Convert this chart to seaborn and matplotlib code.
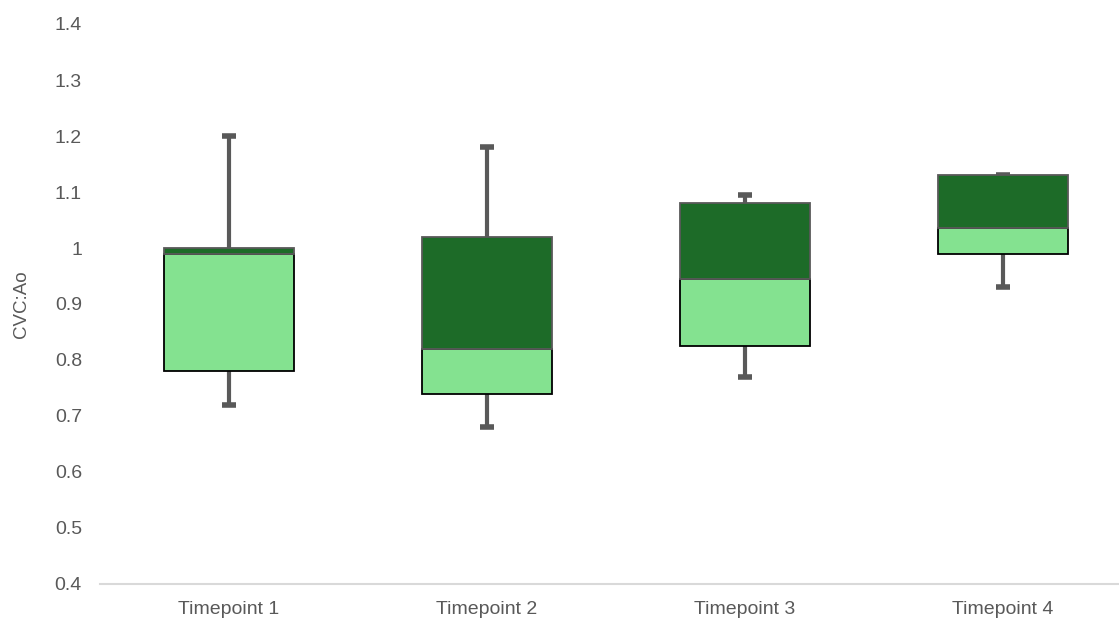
import numpy as np
import pandas as pd
import seaborn as sns
from matplotlib import pyplot as plt

# values (Excel-style box chart)
timepoints = ["Timepoint 1", "Timepoint 2", "Timepoint 3", "Timepoint 4"]
whisker_low = [0.72, 0.68, 0.77, 0.93]
q1 = [0.78, 0.74, 0.825, 0.99]
median = [0.99, 0.82, 0.945, 1.035]
q3 = [1.0, 1.02, 1.08, 1.13]
whisker_high = [1.2, 1.18, 1.095, 1.13]

LIGHT = "#84e290"
DARK = "#1d6b28"
GREY = "#595959"

sns.set_theme(style="white")
plt.rcParams["font.family"] = ["Liberation Sans", "DejaVu Sans"]

df = pd.DataFrame({
    "tp": timepoints,
    "lo": whisker_low,
    "q1": q1,
    "med": median,
    "q3": q3,
    "hi": whisker_high,
})
df["lower"] = df["med"] - df["q1"]
df["upper"] = df["q3"] - df["med"]

fig = plt.figure(figsize=(11.19, 6.19), dpi=100)
ax = fig.add_axes([100 / 1119, 35 / 619, 1019 / 1119, 560 / 619])

# whiskers behind the boxes
x = np.arange(len(df))
ax.vlines(x, df["lo"], df["q1"], color=GREY, linewidth=3, zorder=1)
ax.vlines(x, df["q3"], df["hi"], color=GREY, linewidth=3, zorder=1)
cap = 0.028
ax.hlines(df["lo"], x - cap, x + cap, color=GREY, linewidth=4, zorder=1)
ax.hlines(df["hi"], x - cap, x + cap, color=GREY, linewidth=4, zorder=1)

sns.barplot(data=df, x="tp", y="lower", bottom=df["q1"].to_numpy(), color=LIGHT,
            saturation=1, width=0.505, edgecolor="black", linewidth=1.3,
            errorbar=None, ax=ax, zorder=2)
sns.barplot(data=df, x="tp", y="upper", bottom=df["med"].to_numpy(), color=DARK,
            saturation=1, width=0.505, edgecolor=GREY, linewidth=1.3,
            errorbar=None, ax=ax, zorder=2)

ax.set_xlim(-0.5, 3.45)
ax.set_ylim(0.4, 1.4)
ax.set_yticks(np.arange(0.4, 1.41, 0.1))
ax.set_yticklabels(["0.4", "0.5", "0.6", "0.7", "0.8", "0.9", "1", "1.1", "1.2", "1.3", "1.4"])
ax.tick_params(axis="both", length=0, colors=GREY, labelsize=14)
ax.tick_params(axis="y", pad=13)
ax.tick_params(axis="x", pad=12)
ax.set_xlabel("")
ax.set_ylabel("CVC:Ao", color=GREY, fontsize=13.5, labelpad=18)

for s in ["top", "right", "left"]:
    ax.spines[s].set_visible(False)
ax.spines["bottom"].set_color("#d9d9d9")
ax.spines["bottom"].set_linewidth(1.5)

fig.savefig("out.png", dpi=100)
